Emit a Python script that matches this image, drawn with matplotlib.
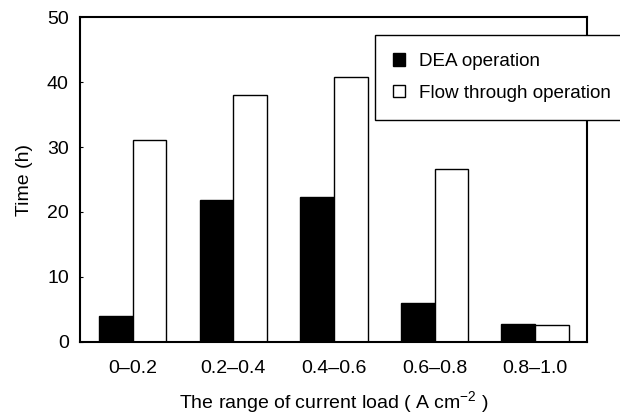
import matplotlib
matplotlib.use("Agg")
import matplotlib.pyplot as plt
import numpy as np

plt.rcParams["font.family"] = ["Liberation Sans", "DejaVu Sans"]
plt.rcParams["mathtext.fontset"] = "custom"
plt.rcParams["mathtext.rm"] = "Liberation Sans"
plt.rcParams["mathtext.it"] = "Liberation Sans:italic"

ranges = ["0\u20130.2", "0.2\u20130.4", "0.4\u20130.6", "0.6\u20130.8", "0.8\u20131.0"]
dea_hours = [4.0, 21.9, 22.3, 6.0, 2.8]
flow_hours = [31.1, 38.0, 40.8, 26.6, 2.5]

x = np.arange(len(ranges))
w = 0.335

fig = plt.figure(figsize=(6.2, 4.18), dpi=100)
ax = fig.add_axes([0.129, 0.1825, 0.818, 0.776])

ax.bar(x - w / 2, dea_hours, w, color="black", edgecolor="black", lw=1.0,
       label="DEA operation")
ax.bar(x + w / 2, flow_hours, w, color="white", edgecolor="black", lw=1.0,
       label="Flow through operation")

ax.set_xlim(-0.523, 4.516)
ax.set_ylim(0, 50)
ax.set_yticks([0, 10, 20, 30, 40, 50])
ax.set_xticks(x)
ax.set_xticklabels(ranges)
ax.tick_params(axis="x", length=0, pad=13, labelsize=14)
ax.tick_params(axis="y", direction="in", length=2, pad=8, labelsize=14)
for s in ax.spines.values():
    s.set_linewidth(1.5)

ax.set_ylabel("Time (h)", fontsize=14, labelpad=10)
ax.set_xlabel("The range of current load ( A cm$^{-2}$ )", fontsize=14, labelpad=9)

leg = ax.legend(loc="upper left", bbox_to_anchor=(0.5815, 0.9455), borderaxespad=0,
                fontsize=13.6, frameon=True, fancybox=False, edgecolor="black",
                framealpha=1, handlelength=0.64, handleheight=0.64,
                handletextpad=0.75, borderpad=0.97, labelspacing=0.76)
leg.get_frame().set_linewidth(1.0)

fig.savefig("out.png", dpi=100)
